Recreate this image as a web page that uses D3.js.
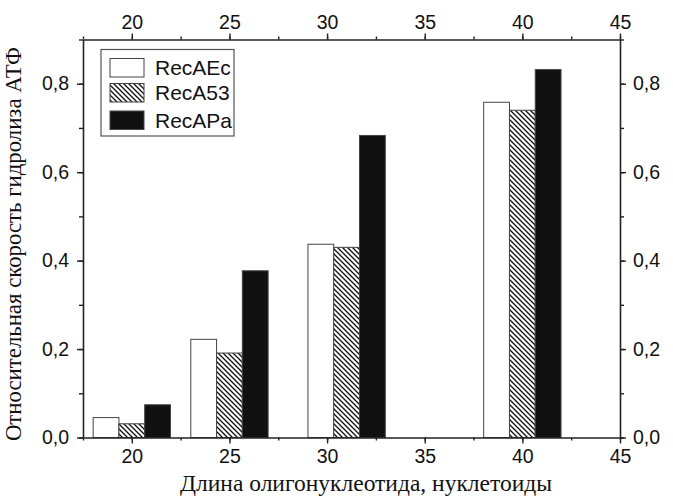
<!DOCTYPE html>
<html><head><meta charset="utf-8">
<script src="https://cdn.jsdelivr.net/npm/d3@7"></script>
<style>body{margin:0;background:#fff}svg{display:block}</style>
</head><body>
<svg id="chart" width="673" height="497"></svg>
<script>
const categories = [20, 25, 31, 40];
const seriesNames = ["RecAEc", "RecA53", "RecAPa"];
const recAEc = [0.045, 0.222, 0.437, 0.758];
const recA53 = [0.031, 0.191, 0.430, 0.740];
const recAPa = [0.074, 0.377, 0.683, 0.832];
const xTicks = [20, 25, 30, 35, 40, 45];
const yTicks = [0, 0.2, 0.4, 0.6, 0.8];
const yTickLabels = ["0,0", "0,2", "0,4", "0,6", "0,8"];
const xTitle = "Длина олигонуклеотида, нуклетоиды";
const yTitle = "Относительная скорость гидролиза АТФ";

const svg = d3.select("#chart");
const L = 83, R = 620, T = 39.5, B = 437.5;
const x = d3.scaleLinear().domain([17.5, 45]).range([L, R]);
const y = d3.scaleLinear().domain([0, 0.9]).range([B, T]);
const barW = 1.32;

const defs = svg.append("defs");
const pat = defs.append("pattern").attr("id", "hatch").attr("patternUnits", "userSpaceOnUse")
  .attr("width", 5).attr("height", 5);
pat.append("rect").attr("width", 5).attr("height", 5).attr("fill", "#fff");
pat.append("path").attr("d", "M-1,-1 L6,6 M-1,4 L1,6 M4,-1 L6,1").attr("stroke", "#111").attr("stroke-width", 1.3);

const fills = ["#fff", "url(#hatch)", "#111"];
const data = [recAEc, recA53, recAPa];
const offsets = [-1, 0, 1];

data.forEach((vals, si) => {
  svg.append("g").selectAll("rect").data(vals).join("rect")
    .attr("x", (d, i) => x(categories[i] + offsets[si] * barW - barW / 2))
    .attr("width", x(barW) - x(0))
    .attr("y", d => y(d))
    .attr("height", d => y(0) - y(d))
    .attr("fill", fills[si])
    .attr("stroke", "#444").attr("stroke-width", 1);
});

const tickFont = "'Liberation Sans Narrow', 'Arial Narrow', 'Liberation Sans', Arial, sans-serif";
function styleAxis(g) {
  g.select(".domain").attr("stroke", "#222").attr("stroke-width", 1.6);
  g.selectAll(".tick line").attr("stroke", "#222").attr("stroke-width", 1.4);
  g.selectAll("text").attr("font-family", tickFont).attr("font-size", 19.5).attr("fill", "#111");
}
const minorX = d3.range(17.5, 45.01, 2.5);
const minorY = d3.range(0, 0.901, 0.1);

// bottom
svg.append("g").attr("transform", `translate(0,${B})`)
  .call(d3.axisBottom(x).tickValues(minorX).tickSize(3).tickFormat(""))
  .call(g => { g.select(".domain").remove(); g.selectAll("line").attr("stroke", "#222").attr("stroke-width", 1.4); });
svg.append("g").attr("transform", `translate(0,${B})`)
  .call(d3.axisBottom(x).tickValues(xTicks).tickSize(6).tickSizeOuter(0).tickPadding(6).tickFormat(d3.format("d")))
  .call(styleAxis);
// top
svg.append("g").attr("transform", `translate(0,${T})`)
  .call(d3.axisTop(x).tickValues(minorX).tickSize(3).tickFormat(""))
  .call(g => { g.select(".domain").remove(); g.selectAll("line").attr("stroke", "#222").attr("stroke-width", 1.4); });
svg.append("g").attr("transform", `translate(0,${T})`)
  .call(d3.axisTop(x).tickValues(xTicks).tickSize(6).tickSizeOuter(0).tickPadding(5).tickFormat(d3.format("d")))
  .call(styleAxis);
// left
svg.append("g").attr("transform", `translate(${L},0)`)
  .call(d3.axisLeft(y).tickValues(minorY).tickSize(4).tickFormat(""))
  .call(g => { g.select(".domain").remove(); g.selectAll("line").attr("stroke", "#222").attr("stroke-width", 1.4); });
svg.append("g").attr("transform", `translate(${L},0)`)
  .call(d3.axisLeft(y).tickValues(yTicks).tickSize(6).tickSizeOuter(0).tickPadding(8).tickFormat((d, i) => yTickLabels[i]))
  .call(styleAxis);
// right
svg.append("g").attr("transform", `translate(${R},0)`)
  .call(d3.axisRight(y).tickValues(minorY).tickSize(4).tickFormat(""))
  .call(g => { g.select(".domain").remove(); g.selectAll("line").attr("stroke", "#222").attr("stroke-width", 1.4); });
svg.append("g").attr("transform", `translate(${R},0)`)
  .call(d3.axisRight(y).tickValues(yTicks).tickSize(6).tickSizeOuter(0).tickPadding(7).tickFormat((d, i) => yTickLabels[i]))
  .call(styleAxis);

// titles
svg.append("text").attr("x", 366).attr("y", 491)
  .attr("text-anchor", "middle").attr("font-family", "'Liberation Serif', 'Times New Roman', serif")
  .attr("font-size", 23.5).attr("fill", "#111").text(xTitle);
svg.append("text").attr("transform", `translate(21,${244}) rotate(-90)`)
  .attr("text-anchor", "middle").attr("font-family", "'Liberation Serif', 'Times New Roman', serif")
  .attr("font-size", 22.8).attr("fill", "#111").text(yTitle);

// legend
const lg = svg.append("g");
lg.append("rect").attr("x", 101).attr("y", 49.5).attr("width", 133).attr("height", 86.5)
  .attr("fill", "#fff").attr("stroke", "#555").attr("stroke-width", 1.2);
const rowY = [58.5, 83.5, 111];
seriesNames.forEach((n, i) => {
  lg.append("rect").attr("x", 110).attr("y", rowY[i]).attr("width", 34).attr("height", 18.5)
    .attr("fill", fills[i]).attr("stroke", "#444").attr("stroke-width", 1);
  lg.append("text").attr("x", 155).attr("y", rowY[i] + 16.5)
    .attr("font-family", "'Liberation Sans', Arial, sans-serif").attr("font-size", 21)
    .attr("fill", "#111").text(n);
});
</script>
</body></html>
